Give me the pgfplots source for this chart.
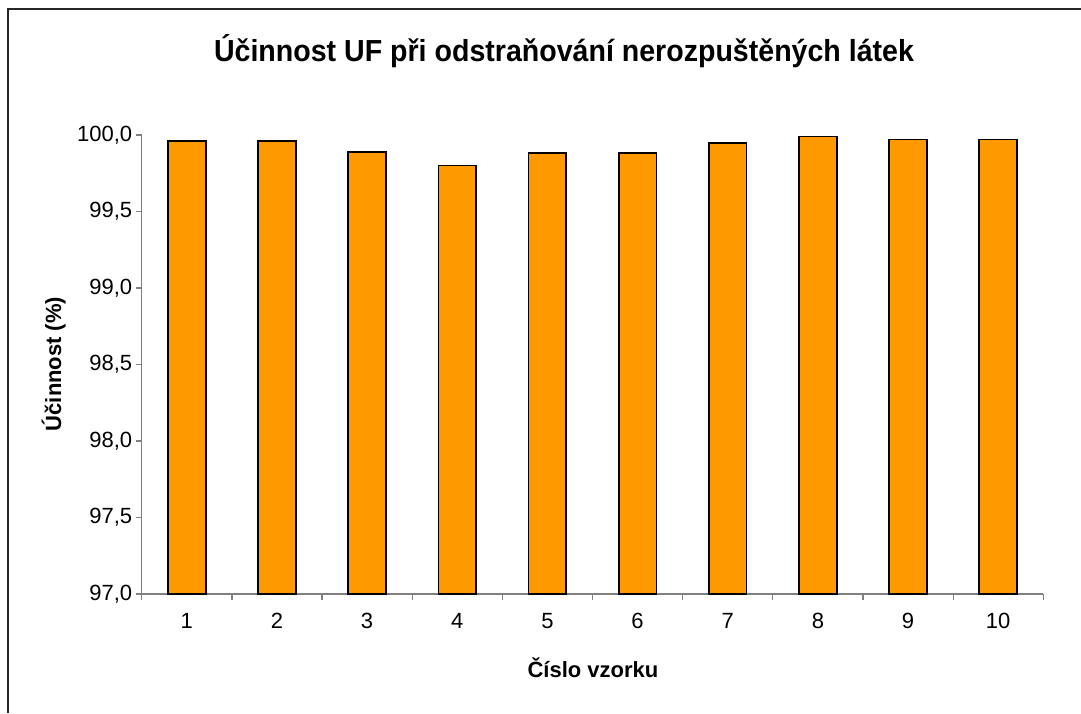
\documentclass[border=0pt]{standalone}
\usepackage{fontspec}
\setmainfont{Liberation Sans}
\usepackage{pgfplots}
\pgfplotsset{compat=1.18}
\definecolor{barorange}{RGB}{255,153,0}
\definecolor{axgray}{RGB}{128,128,128}
\begin{document}
\begin{tikzpicture}[x=1pt,y=1pt]
\useasboundingbox (0,0) rectangle (1081,713);
\draw[line width=2pt, black!85] (8,0) -- (8,704) -- (1081,704);
\node[anchor=base, font=\fontsize{29}{34}\selectfont\bfseries] at (564,651) {\scalebox{0.985}[1.05]{Účinnost UF při odstraňování nerozpuštěných látek}};
\node[anchor=base, rotate=90, font=\fontsize{22}{26}\selectfont\bfseries] at (61,349) {Účinnost (\%)};
\node[anchor=base, font=\fontsize{22}{26}\selectfont\bfseries] at (593,36) {Číslo vzorku};
\begin{axis}[
  at={(141.7pt,119pt)}, anchor=south west,
  width=901.6pt, height=459pt, scale only axis,
  xmin=0.5, xmax=10.5, ymin=97, ymax=100,
  axis lines*=left,
  axis line style={axgray, line width=1.3pt},
  tick align=outside,
  major tick length=6pt, minor tick length=6pt,
  tick style={axgray, line width=1.3pt},
  xtick={1,2,3,4,5,6,7,8,9,10},
  major x tick style={draw=none},
  minor xtick={0.5,1.5,2.5,3.5,4.5,5.5,6.5,7.5,8.5,9.5,10.5},
  ytick={97,97.5,98,98.5,99,99.5,100},
  yticklabel style={/pgf/number format/.cd, fixed, fixed zerofill, precision=1, use comma},
  /pgf/number format/assume math mode=true,
  tick label style={font=\fontsize{22}{26}\selectfont},
  xticklabel style={yshift=-10pt},
]
\addplot[ybar, bar width=37.7pt, fill=barorange, draw=black, line width=1.8pt] coordinates {
(1,99.96) (2,99.96) (3,99.89) (4,99.80) (5,99.88) (6,99.88) (7,99.95) (8,99.99) (9,99.97) (10,99.97)
};
\end{axis}
\end{tikzpicture}
\end{document}
